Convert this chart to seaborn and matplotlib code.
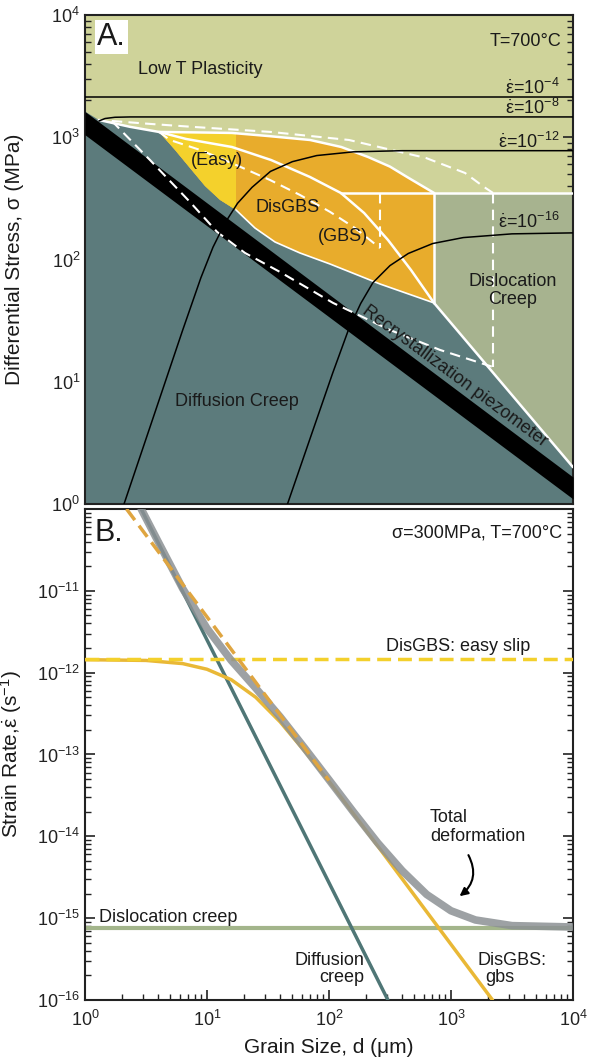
import numpy as np
import matplotlib
matplotlib.use("Agg")
import matplotlib.pyplot as plt
import seaborn as sns
from matplotlib.patches import Rectangle
from matplotlib.ticker import LogLocator, NullFormatter

# ---------------- data: panel A (deformation mechanism map) ----------------
# grain size d (um) / stress (MPa)
band_d = [1.0, 10000.0]
band_top = [1622, 1.66]
band_bot = [1047, 1.10]

# boundary Low-T plasticity / DisGBS + diffusion wedge (solid white)
top_d = [1.30, 2.34, 4.05, 8.0, 16.0, 31.6, 70.0, 126, 209, 316, 436, 562, 726]
top_s = [1384, 1216, 1104, 1095, 1084, 1023, 949, 832, 689, 575, 473, 407, 350]

# boundary DisGBS / diffusion creep
low_d = [4.05, 5.47, 7.26, 9.64, 12.8, 17.3, 24.7, 36.1, 57.8, 102, 262, 726]
low_s = [1104, 787, 560, 399, 307, 254, 181, 139, 113, 91.8, 63.0, 44.1]

# boundary diffusion / dislocation creep
disl_d = [726, 10000]
disl_s = [44.1, 2.0]
disl_top = 350          # dislocation creep / low T plasticity
easy_edge = 17.3        # easy slip / gbs limited colour change

# easy / gbs boundary (solid white)
gbs_d = [4.05, 6.73, 16.0, 33.5, 69.8, 125, 194, 305, 470, 726]
gbs_s = [1104, 968, 832, 651, 473, 350, 240, 144, 82, 44.1]

# dashed variants
dash_up_d = [1.66, 3.41, 7.82, 33.5, 146, 624, 1303, 1862, 2208]
dash_up_s = [1358, 1285, 1213, 1104, 949, 676, 510, 392, 350]
dash_lo_d = [1.66, 3.41, 7.26, 12.1, 20.5, 39.6, 108, 316, 813, 2208]
dash_lo_s = [1358, 651, 295, 168, 113, 79.1, 44.1, 26.5, 18.2, 13.2]
dash_in_d = [4.05, 4.97, 8.77, 17.3, 32.8, 57.8, 102, 163, 262]
dash_in_s = [1104, 949, 787, 593, 447, 337, 245, 181, 124]
dash_vert_big = [350, 13.2]     # at d = 2208
dash_vert_small = [350, 124]    # at d = 262

# iso strain rate contours
c4_d, c4_s = [1.0, 10000], [2148, 2148]
c8_d = [1.30, 1.46, 1.76, 2.34, 10000]
c8_s = [1358, 1422, 1456, 1465, 1465]
c12_d = [2.09, 3.55, 6.31, 8.91, 11.2, 14.1, 17.8, 23.4, 33.1, 50.1, 79.4, 158, 398, 10000]
c12_s = [1.0, 4.79, 26.3, 70.8, 126, 200, 288, 389, 525, 631, 708, 759, 776, 776]
c16_d = [45.7, 70.8, 107, 145, 182, 229, 316, 447, 708, 1259, 3162, 10000]
c16_s = [1.0, 3.55, 11.7, 26.9, 43.7, 64.6, 89.1, 112, 135, 151, 162, 165]

# ---------------- data: panel B (strain rate at 300 MPa) ----------------
diff_d, diff_e = [2.89, 304], [1e-10, 1e-16]
gbsB_d = [1, 3.16, 6.31, 10, 15.8, 25.1, 39.8, 63.1, 100, 251, 631, 2188]
gbsB_e = [1.44e-12, 1.41e-12, 1.29e-12, 1.10e-12, 8.2e-13, 5.0e-13, 2.5e-13,
          1.1e-13, 4.7e-14, 7.6e-15, 1.2e-15, 1.0e-16]
easy_d, easy_e = [1, 10000], [1.45e-12, 1.45e-12]
gbsdash_d, gbsdash_e = [2.19, 100], [1e-10, 4.8e-14]
dislB_d, dislB_e = [1, 10000], [7.6e-16, 7.6e-16]
tot_d = [2.89, 3.98, 6.31, 10, 15.8, 25.1, 39.8, 63.1, 100, 158, 251, 398, 631,
         1000, 1585, 3162, 10000]
tot_e = [1.0e-10, 3.98e-11, 1.07e-11, 3.47e-12, 1.41e-12, 6.46e-13, 2.88e-13,
         1.20e-13, 4.9e-14, 2.0e-14, 8.3e-15, 3.8e-15, 1.95e-15, 1.23e-15,
         9.5e-16, 8.1e-16, 7.8e-16]

yticksA = [1e0, 1e1, 1e2, 1e3, 1e4]
yticksB = [1e-16, 1e-15, 1e-14, 1e-13, 1e-12, 1e-11, 1e-10]
ylabelsB = ['$10^{-16}$', '$10^{-15}$', '$10^{-14}$', '$10^{-13}$', '$10^{-12}$', '$10^{-11}$', '']

# ---------------- style ----------------
sns.set_theme(style="ticks")
plt.rcParams['font.family'] = ['Liberation Sans', 'DejaVu Sans']
plt.rcParams['mathtext.fontset'] = 'custom'
plt.rcParams['mathtext.rm'] = 'Liberation Sans'
plt.rcParams['mathtext.it'] = 'Liberation Sans:italic'
plt.rcParams['mathtext.bf'] = 'Liberation Sans:bold'

khaki = "#CFD39A"
teal = "#5C7B7C"
orange = "#E8AC2C"
yellow = "#F4D12C"
dislc = "#A7B38F"
txt = "#1a1a1a"
FS = 13
EDOT = r'$\dot{\mathrm{\varepsilon}}$'

fig = plt.figure(figsize=(6.07, 10.61), dpi=100)
axA = fig.add_axes([0.1400, 0.5250, 0.8040, 0.4609])
axB = fig.add_axes([0.1400, 0.0575, 0.8040, 0.4628])

for ax in (axA, axB):
    ax.set_xscale('log')
    ax.set_yscale('log')
    ax.set_xlim(1, 1e4)
    for sp in ax.spines.values():
        sp.set_linewidth(1.5)
        sp.set_color('#222222')
    ax.tick_params(which='both', direction='in', left=True, right=True,
                   bottom=True, top=False, labelsize=FS, colors='#222222')
    ax.tick_params(which='major', length=7, width=1.2)
    ax.tick_params(which='minor', length=4, width=1.0)
    ax.xaxis.set_minor_locator(LogLocator(base=10, subs=np.arange(2, 10)))
    ax.yaxis.set_minor_locator(LogLocator(base=10, subs=np.arange(2, 10)))
    ax.xaxis.set_minor_formatter(NullFormatter())
    ax.yaxis.set_minor_formatter(NullFormatter())

# ---------------- panel A ----------------
axA.set_ylim(1, 1e4)
axA.set_facecolor(khaki)

# diffusion creep field
teal_x = [1.0] + top_d[:3] + low_d[1:] + disl_d[1:] + [1e4, 1.0]
teal_y = [1622] + top_s[:3] + low_s[1:] + disl_s[1:] + [1.0, 1.0]
axA.fill(teal_x, teal_y, color=teal, lw=0, zorder=1)

# DisGBS field (orange) and easy slip part (yellow)
n_top = top_d.index(4.05)
gbs_x = top_d[n_top:] + low_d[::-1]
gbs_y = top_s[n_top:] + low_s[::-1]
axA.fill(gbs_x, gbs_y, color=orange, lw=0, zorder=2)
easy_poly = axA.fill(gbs_x, gbs_y, color=yellow, lw=0, zorder=2.1)[0]
easy_poly.set_clip_path(Rectangle((0.5, 0.5), easy_edge - 0.5, 1e5, transform=axA.transData))

# dislocation creep field
axA.fill([disl_d[0], 1e4] + disl_d[::-1], [disl_top, disl_top] + disl_s[::-1],
         color=dislc, lw=0, zorder=2)

# recrystallization piezometer band
axA.fill_between(band_d, band_bot, band_top, color='black', lw=0, zorder=3)

# white boundaries
wkw = dict(color='white', lw=1.8, zorder=4)
sns.lineplot(x=top_d, y=top_s, ax=axA, sort=False, estimator=None, **wkw)
sns.lineplot(x=gbs_d, y=gbs_s, ax=axA, sort=False, estimator=None, **wkw)
sns.lineplot(x=low_d[5:], y=low_s[5:], ax=axA, sort=False, estimator=None,
             color='white', lw=1.2, zorder=4)
sns.lineplot(x=disl_d, y=disl_s, ax=axA, sort=False, estimator=None, **wkw)
axA.plot([gbs_d[5], 1e4], [disl_top, disl_top], **wkw)
axA.plot([disl_d[0], disl_d[0]], [disl_top, disl_s[0]], **wkw)

dkw = dict(color='white', lw=1.5, linestyle=(0, (5, 3)), zorder=4)
axA.plot(dash_up_d, dash_up_s, **dkw)
axA.plot(dash_lo_d, dash_lo_s, **dkw)
axA.plot(dash_in_d, dash_in_s, **dkw)
axA.plot([dash_up_d[-1]] * 2, dash_vert_big, **dkw)
axA.plot([dash_in_d[-1]] * 2, dash_vert_small, **dkw)

# iso strain-rate contours
for cd, cs in [(c4_d, c4_s), (c8_d, c8_s), (c12_d, c12_s), (c16_d, c16_s)]:
    sns.lineplot(x=cd, y=cs, ax=axA, sort=False, estimator=None,
                 color='black', lw=1.1, zorder=5)

axA.set_yticks(yticksA)
axA.tick_params(axis='x', labelbottom=False)
axA.set_ylabel('Differential Stress, σ (MPa)', fontsize=15, color=txt)
axA.yaxis.set_label_coords(-0.125, 0.5)
axA.set_xlabel('')

tA = axA.transAxes
axA.text(0.025, 0.955, 'A.', transform=tA, fontsize=22, color=txt, ha='left', va='center',
         bbox=dict(facecolor='white', edgecolor='none', pad=1.5), zorder=6)
axA.text(0.977, 0.945, 'T=700°C', transform=tA, fontsize=FS, color=txt, ha='right', va='center')
axA.text(0.109, 0.888, 'Low T Plasticity', transform=tA, fontsize=FS, color=txt, ha='left', va='center')
for lab, yy in [('-4', 0.851), ('-8', 0.810), ('-12', 0.740), ('-16', 0.577)]:
    axA.text(0.972, yy, EDOT + '=10$^{%s}$' % lab, transform=tA, fontsize=FS,
             color=txt, ha='right', va='center', zorder=6)
axA.text(0.270, 0.703, '(Easy)', transform=tA, fontsize=FS, color=txt, ha='center', va='center', zorder=6)
axA.text(0.416, 0.607, 'DisGBS', transform=tA, fontsize=FS, color=txt, ha='center', va='center', zorder=6)
axA.text(0.529, 0.546, '(GBS)', transform=tA, fontsize=FS, color=txt, ha='center', va='center', zorder=6)
axA.text(0.877, 0.436, 'Dislocation\nCreep', transform=tA, fontsize=FS, color=txt,
         ha='center', va='center', linespacing=1.1, zorder=6)
axA.text(0.311, 0.209, 'Diffusion Creep', transform=tA, fontsize=FS, color=txt, ha='center', va='center', zorder=6)
axA.text(0.757, 0.262, 'Recrystallization piezometer', transform=tA, fontsize=FS, color=txt,
         ha='center', va='center', rotation=-36.5, rotation_mode='anchor', zorder=6)

# ---------------- panel B ----------------
axB.set_ylim(1e-16, 1e-10)
axB.set_facecolor('white')
sns.lineplot(x=dislB_d, y=dislB_e, ax=axB, color='#A3B58B', lw=3, zorder=2)
sns.lineplot(x=diff_d, y=diff_e, ax=axB, color='#4F7676', lw=2.5, zorder=3)
sns.lineplot(x=gbsB_d, y=gbsB_e, ax=axB, sort=False, estimator=None, color='#E9B836', lw=2.5, zorder=3)
axB.plot(easy_d, easy_e, color='#F3D02C', lw=2.5, linestyle=(0, (4, 2)), zorder=3)
axB.plot(gbsdash_d, gbsdash_e, color='#DFA540', lw=2.5, linestyle=(0, (4, 2)), zorder=5)
sns.lineplot(x=tot_d, y=tot_e, ax=axB, sort=False, estimator=None, color='#8C9194',
             lw=5.5, alpha=0.85, zorder=4)

axB.set_yticks(yticksB)
axB.set_yticklabels(ylabelsB)
axB.set_xticks([1e0, 1e1, 1e2, 1e3, 1e4])
axB.tick_params(axis='x', pad=7)
axB.set_xlabel('Grain Size, d (μm)', fontsize=15, color=txt, labelpad=6)
axB.set_ylabel('Strain Rate,' + EDOT + ' (s$^{-1}$)', fontsize=15, color=txt)
axB.yaxis.set_label_coords(-0.125, 0.5)

tB = axB.transAxes
axB.text(0.020, 0.951, 'B.', transform=tB, fontsize=22, color=txt, ha='left', va='center')
axB.text(0.977, 0.951, 'σ=300MPa, T=700°C', transform=tB, fontsize=FS, color=txt, ha='right', va='center')
axB.text(0.617, 0.719, 'DisGBS: easy slip', transform=tB, fontsize=FS, color=txt, ha='left', va='center')
axB.text(0.707, 0.352, 'Total\ndeformation', transform=tB, fontsize=FS, color=txt,
         ha='left', va='center', linespacing=1.1)
axB.text(0.029, 0.169, 'Dislocation creep', transform=tB, fontsize=FS, color=txt, ha='left', va='center')
axB.text(0.572, 0.063, 'Diffusion\ncreep', transform=tB, fontsize=FS, color=txt,
         ha='right', va='center', multialignment='right', linespacing=1.0)
axB.text(0.875, 0.081, 'DisGBS:', transform=tB, fontsize=FS, color=txt, ha='center', va='center')
axB.text(0.850, 0.045, 'gbs', transform=tB, fontsize=FS, color=txt, ha='center', va='center')
axB.annotate('', xy=(0.763, 0.208), xytext=(0.783, 0.300), xycoords=tB, textcoords=tB,
             arrowprops=dict(arrowstyle='-|>', color='black', lw=1.5,
                             connectionstyle='arc3,rad=-0.45', mutation_scale=12))

fig.savefig('out.png', dpi=100)
